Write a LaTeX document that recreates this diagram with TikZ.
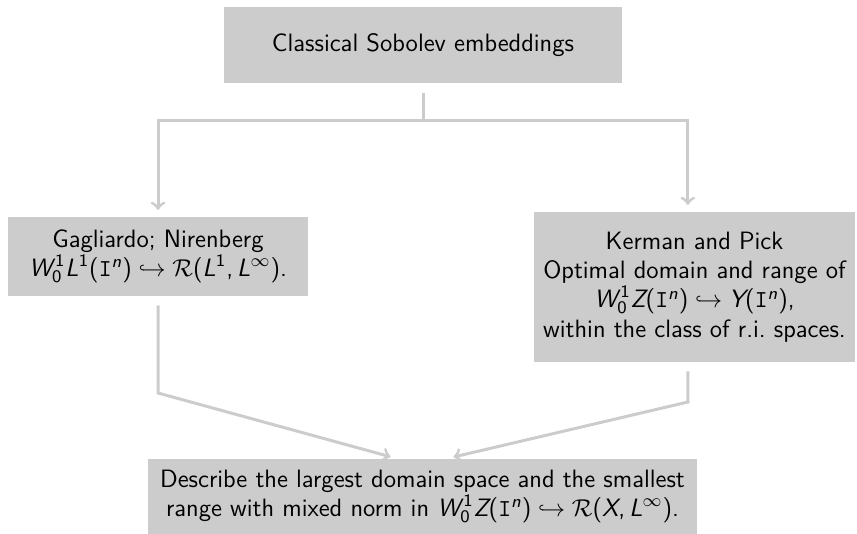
\documentclass[tikz,border=0pt]{standalone}
\usepackage{amsmath}
\usepackage{amssymb}
\usetikzlibrary{positioning, arrows}
% sans serif pieces of the formulas
\newcommand{\mv}[1]{\text{\sffamily\slshape #1}} % slanted letter
\newcommand{\mt}[1]{\text{\sffamily #1}} % upright digit or bracket
\newcommand{\sobw}{\mv{W}^{\kern1.3pt\mt1}_{\mt0}} % W^1_0
\tikzset{
box/.style={fill=black!20, align=center, inner sep=0pt, font=\fontsize{11.3}{13.2}\selectfont\sffamily}, % grey boxes
link/.style={draw=black!20, line width=1.35pt}, % grey connectors
}

\begin{document}
\begin{tikzpicture}[x=0.45pt, y=-0.45pt, >=to]
    \useasboundingbox (0,0) rectangle (857,534);
    % the four boxes
    \node[box, minimum width=398*0.45pt, minimum height=76*0.45pt] (classic) at (423,45) {Classical Sobolev embeddings};
    \node[box, minimum width=300*0.45pt, minimum height=79*0.45pt] (gn) at (158,256.5)
        {Gagliardo; Nirenberg\\ $\sobw\mv{L}^{\mt1}\mt{(}\mathtt{I}^{\mv{n}}\mt{)}\hookrightarrow\mathcal{R}\mt{(}\mv{L}^{\mt1}\mt{,}\,\mv{L}^{\infty}\mt{)}$.};
    \node[box, minimum width=321*0.45pt, minimum height=150*0.45pt] (kp) at (694.5,287)
        {Kerman and Pick\\ Optimal domain and range of\\ $\sobw\mv{Z}\mt{(}\mathtt{I}^{\mv{n}}\mt{)}\hookrightarrow\mv{Y}\mt{(}\mathtt{I}^{\mv{n}}\mt{)}$,\\ within the class of r.i.\ spaces.};
    \node[box, minimum width=549*0.45pt, minimum height=75*0.45pt] (goal) at (422.5,496.5)
        {Describe the largest domain space and the smallest\\ range with mixed norm in $\sobw\mv{Z}\mt{(}\mathtt{I}^{\mv{n}}\mt{)}\hookrightarrow\mathcal{R}\mt{(}\mv{X}\mt{,}\,\mv{L}^{\infty}\mt{)}$.};

    \coordinate (fork) at (423,121);
    \coordinate (lbend) at (158,393);
    \coordinate (rbend) at (688,402);

    \draw[link, shorten <=4.5pt] (classic.south) -- (fork);
    \draw[link, ->, shorten >=3pt] (fork) -| (gn.north);
    \draw[link, ->, shorten >=3pt] (fork) -| ([xshift=-3pt]kp.north);
    \draw[link, ->, shorten <=4pt, shorten >=3pt] (gn.south) -- (lbend) -- ([xshift=-11.5pt]goal.north);
    \draw[link, ->, shorten <=4pt, shorten >=3pt] ([xshift=-3pt]kp.south) -- (rbend) -- ([xshift=11pt]goal.north);
\end{tikzpicture}
\end{document}
